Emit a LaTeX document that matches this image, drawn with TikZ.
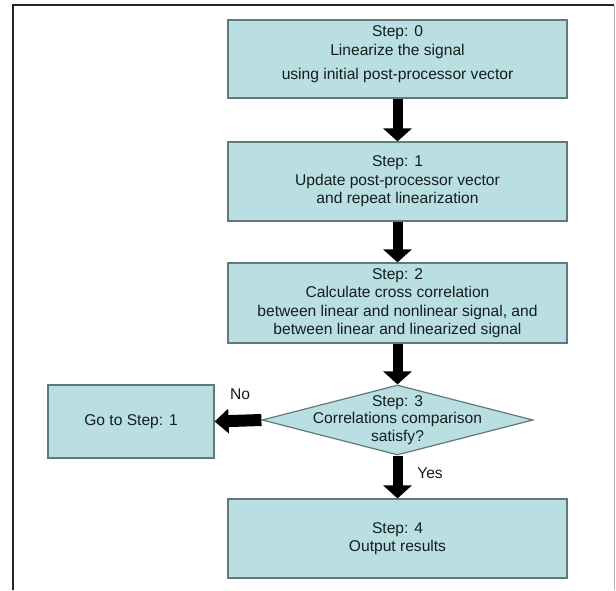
\documentclass[tikz,border=0pt]{standalone}
\usepackage{fontspec}
\setmainfont{Liberation Sans}
\usetikzlibrary{shapes.geometric,arrows.meta}
\definecolor{boxfill}{HTML}{B9DFE2}
\definecolor{boxline}{HTML}{62797B}
\definecolor{txt}{HTML}{151D1E}
\begin{document}
\begin{tikzpicture}[x=1pt,y=-1pt,
  stepbox/.style={draw=boxline, line width=1.2pt, fill=boxfill, minimum width=339pt, inner sep=0pt, align=center, font=\fontsize{15.6}{18.5}\selectfont, text=txt},
  bigarrow/.style={line width=10pt, -{Triangle[length=13pt,width=28pt]}},
  sidearrow/.style={line width=12pt, -{Triangle[length=14pt,width=24pt]}},
  lbl/.style={font=\fontsize{15.6}{18}\selectfont, text=txt, inner sep=0pt},
]
\useasboundingbox (0,0) rectangle (616,590);
\fill[white] (0,0) rectangle (616,590);
% frame
\draw[line width=1.6pt, black!85] (13,590) -- (13,5) -- (614,5);
\draw[line width=1pt, black!30] (614,5) -- (614,590);
% steps
\node[stepbox, minimum height=78pt] (s0) at (397.5,59) {Step: 0\\Linearize the signal\\[6pt]using initial post-processor vector\\[-6pt]};
\node[stepbox, minimum height=79pt] (s1) at (397.5,181.5) {Step: 1\\Update post-processor vector\\and repeat linearization};
\node[stepbox, minimum height=80pt] (s2) at (397.5,303) {\\[-7pt]Step: 2\\Calculate cross correlation\\between linear and nonlinear signal, and\\between linear and linearized signal};
\node[diamond, draw=boxline, fill=boxfill, line width=1.2pt, minimum width=271pt, minimum height=70pt, inner sep=0pt] (s3) at (397.5,420) {};
\node[lbl, align=center, font=\fontsize{15.6}{17.5}\selectfont] (s3t) at (s3.center) {Step: 3\\Correlations comparison\\satisfy?};
\node[stepbox, minimum width=166pt, minimum height=73pt] (g) at (131,421.5) {Go to Step: 1};
\node[stepbox, minimum height=79pt] (s4) at (397.5,538.5) {Step: 4\\Output results};
% connectors
\draw[bigarrow] (s0.south) -- (s1.north);
\draw[bigarrow] (s1.south) -- (s2.north);
\draw[bigarrow] (s2.south) -- (s3.north);
\draw[bigarrow] (s3.south) -- (s4.north);
\draw[sidearrow] (s3.west) -- (g.east);
% labels
\node[lbl] (no) at (240,394) {No};
\node[lbl] (yes) at (430,473) {Yes};
\end{tikzpicture}
\end{document}
